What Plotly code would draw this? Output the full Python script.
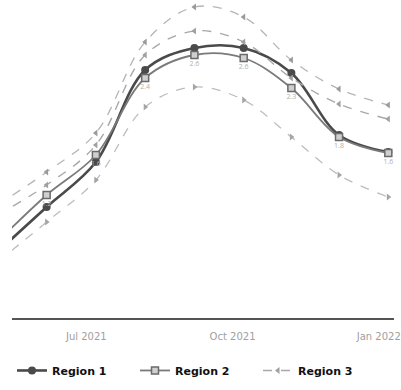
import plotly.graph_objects as go

dates = ["2021-05-06", "2021-06-06", "2021-07-07", "2021-08-07", "2021-09-07",
         "2021-10-08", "2021-11-07", "2021-12-07", "2022-01-07"]

region1 = [0.66, 1.11, 1.56, 2.48, 2.70, 2.70, 2.45, 1.83, 1.66]
region2 = [0.76, 1.23, 1.63, 2.40, 2.63, 2.60, 2.30, 1.81, 1.65]
region3 = [1.03, 1.33, 1.73, 2.63, 2.87, 2.76, 2.40, 2.14, 1.99]
upper = [1.13, 1.46, 1.85, 2.76, 3.11, 3.01, 2.58, 2.29, 2.13]
lower = [0.56, 0.96, 1.38, 2.11, 2.31, 2.18, 1.81, 1.43, 1.21]

labels2 = [""] + [f"{v:.1f}" for v in region2[1:]]

fig = go.Figure()

fig.add_trace(go.Scatter(x=dates, y=upper, mode="lines+markers", name="upper",
                         showlegend=False, line=dict(color="#b5b5b5", width=1.3, dash="dash", shape="spline"),
                         marker=dict(symbol="triangle-left", size=6, color="#9a9a9a")))
fig.add_trace(go.Scatter(x=dates, y=lower, mode="lines+markers", name="lower",
                         showlegend=False, line=dict(color="#bdbdbd", width=1.3, dash="dash", shape="spline"),
                         marker=dict(symbol="triangle-right", size=6, color="#a5a5a5")))
fig.add_trace(go.Scatter(x=dates, y=region1, mode="lines+markers", name="Region 1",
                         line=dict(color="#4a4a4a", width=2.6, shape="spline"),
                         marker=dict(symbol="circle", size=8, color="#4a4a4a")))
fig.add_trace(go.Scatter(x=dates, y=region2, mode="lines+markers+text", name="Region 2",
                         line=dict(color="#7a7a7a", width=1.8, shape="spline"),
                         marker=dict(symbol="square", size=7, color="#cfcfcf", line=dict(color="#6a6a6a", width=1.5)),
                         text=labels2, textposition="bottom center",
                         textfont=dict(size=7, color="#b0b0b0")))
fig.add_trace(go.Scatter(x=dates, y=region3, mode="lines+markers", name="Region 3",
                         line=dict(color="#a8a8a8", width=1.4, dash="dash", shape="spline"),
                         marker=dict(symbol="triangle-left", size=6, color="#a0a0a0")))

fig.update_layout(
    width=401, height=390,
    margin=dict(l=12, r=3, t=0, b=72),
    paper_bgcolor="white", plot_bgcolor="white",
    showlegend=True,
    legend=dict(orientation="h", x=0.0, xanchor="left", y=-0.165, yanchor="middle",
                entrywidth=78, entrywidthmode="pixels",
                font=dict(family="DejaVu Sans", size=11, color="#111111", weight="bold"),
                traceorder="normal"),
    xaxis=dict(range=["2021-05-15 05:00", "2022-01-10 14:00"], showgrid=False, zeroline=False,
               showline=True, linecolor="#555555", linewidth=2,
               dtick="M3", tick0="2021-01-01", tickformat="%b %Y",
               ticks="outside", ticklen=8, tickcolor="rgba(0,0,0,0)",
               ticklabeloverflow="allow",
               tickfont=dict(family="DejaVu Sans", size=10, color="#a0a0a0")),
    yaxis=dict(range=[0, 3.18], showgrid=False, zeroline=False, showticklabels=False,
               showline=False, ticks=""),
)

fig.write_html("out.html")
